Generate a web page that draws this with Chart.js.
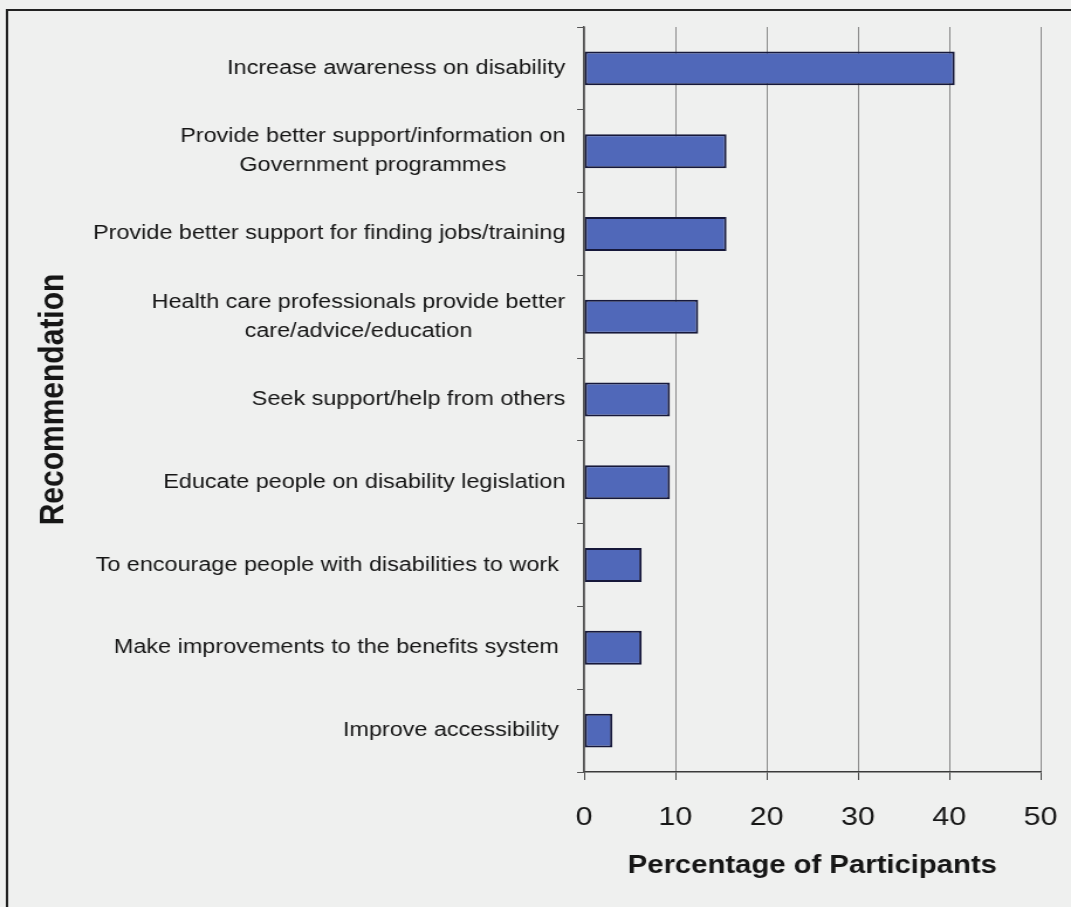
<!DOCTYPE html>
<html>
<head>
<meta charset="utf-8">
<script src="https://cdn.jsdelivr.net/npm/chart.js@4"></script>
<style>
  html, body { margin: 0; padding: 0; background: #eff0ef; overflow: hidden; }
  #wrap { width: 1071px; height: 907px; overflow: hidden; }
  #c { display: block; transform: scaleX(1.1705); transform-origin: 0 0; }
</style>
</head>
<body>
<div id="wrap"><canvas id="c" width="915" height="907"></canvas></div>
<script>
const categories = [
  ["Increase awareness on disability"],
  ["Provide better support/information on", "Government programmes"],
  ["Provide better support for finding jobs/training"],
  ["Health care professionals provide better", "care/advice/education"],
  ["Seek support/help from others"],
  ["Educate people on disability legislation"],
  ["To encourage people with disabilities to work "],
  ["Make improvements to the benefits system "],
  ["Improve accessibility "]
];
const percentages = [40.6, 15.6, 15.6, 12.5, 9.4, 9.4, 6.3, 6.3, 3.1];
const xTicks = [0, 10, 20, 30, 40, 50];
const xTitle = "Percentage of Participants";
const yTitle = "Recommendation";

const FONT = "'Liberation Sans', Arial, sans-serif";

const framePlugin = {
  id: 'frame',
  beforeDraw(chart) {
    const ctx = chart.ctx;
    ctx.save();
    ctx.fillStyle = '#eff0ef';
    ctx.fillRect(0, 0, chart.width, chart.height);
    ctx.strokeStyle = '#222';
    ctx.lineWidth = 2;
    ctx.beginPath();
    ctx.moveTo(6, chart.height + 5);
    ctx.lineTo(6, 10);
    ctx.lineTo(chart.width + 5, 10);
    ctx.stroke();
    ctx.restore();
  }
};

const labelPlugin = {
  id: 'catLabels',
  afterDraw(chart) {
    const ys = chart.scales.y;
    const ctx = chart.ctx;
    ctx.save();
    ctx.font = '20px ' + FONT;
    ctx.fillStyle = '#161616';
    ctx.textAlign = 'center';
    ctx.textBaseline = 'middle';
    const rightEdge = ys.right - 16;
    const lineH = 29;
    categories.forEach((lines, i) => {
      const yc = ys.getPixelForTick(i);
      const w = Math.max(...lines.map(l => ctx.measureText(l).width));
      const xc = rightEdge - w / 2;
      const y0 = yc - (lines.length - 1) * lineH / 2;
      lines.forEach((l, k) => ctx.fillText(l, xc, y0 + k * lineH));
    });
    ctx.restore();
  }
};

new Chart(document.getElementById('c'), {
  type: 'bar',
  data: {
    labels: categories,
    datasets: [{
      data: percentages,
      backgroundColor: '#5068b9',
      borderColor: '#16183a',
      borderWidth: 2,
      borderSkipped: false,
      barPercentage: 0.41,
      categoryPercentage: 1
    }]
  },
  options: {
    indexAxis: 'y',
    responsive: false,
    animation: false,
    devicePixelRatio: 1,
    layout: { padding: { left: 28, top: 27, right: 26, bottom: 26 } },
    plugins: { legend: { display: false }, tooltip: { enabled: false } },
    scales: {
      x: {
        type: 'linear',
        position: 'bottom',
        min: xTicks[0],
        max: xTicks[xTicks.length - 1],
        afterBuildTicks(scale) { scale.ticks = xTicks.map(v => ({ value: v })); },
        afterFit(scale) { scale.height = 109; scale.paddingLeft = 0; scale.paddingRight = 0; },
        grid: { color: '#8a8a8a', lineWidth: 1, drawTicks: true, tickLength: 8, tickColor: '#444' },
        border: { display: true, color: '#3a3a3a', width: 1.5 },
        ticks: { font: { family: FONT, size: 26 }, color: '#161616', padding: 22, maxRotation: 0 },
        title: { display: true, text: xTitle, font: { family: FONT, size: 25, weight: 'bold', lineHeight: 1.2 }, color: '#161616', padding: 0 }
      },
      y: {
        type: 'category',
        position: 'left',
        offset: true,
        afterFit(scale) { scale.width = 471; scale.paddingTop = 0; scale.paddingBottom = 0; },
        grid: { display: true, drawOnChartArea: false, drawTicks: true, tickLength: 6, offset: true, color: '#555', tickColor: '#555' },
        border: { display: true, color: '#555', width: 1.5 },
        ticks: { color: 'transparent', font: { family: FONT, size: 20 }, autoSkip: false },
        title: { display: true, text: yTitle, font: { family: FONT, size: 30, weight: 'bold', lineHeight: 1.2 }, color: '#161616', padding: 0 }
      }
    }
  },
  plugins: [framePlugin, labelPlugin]
});
</script>
</body>
</html>
